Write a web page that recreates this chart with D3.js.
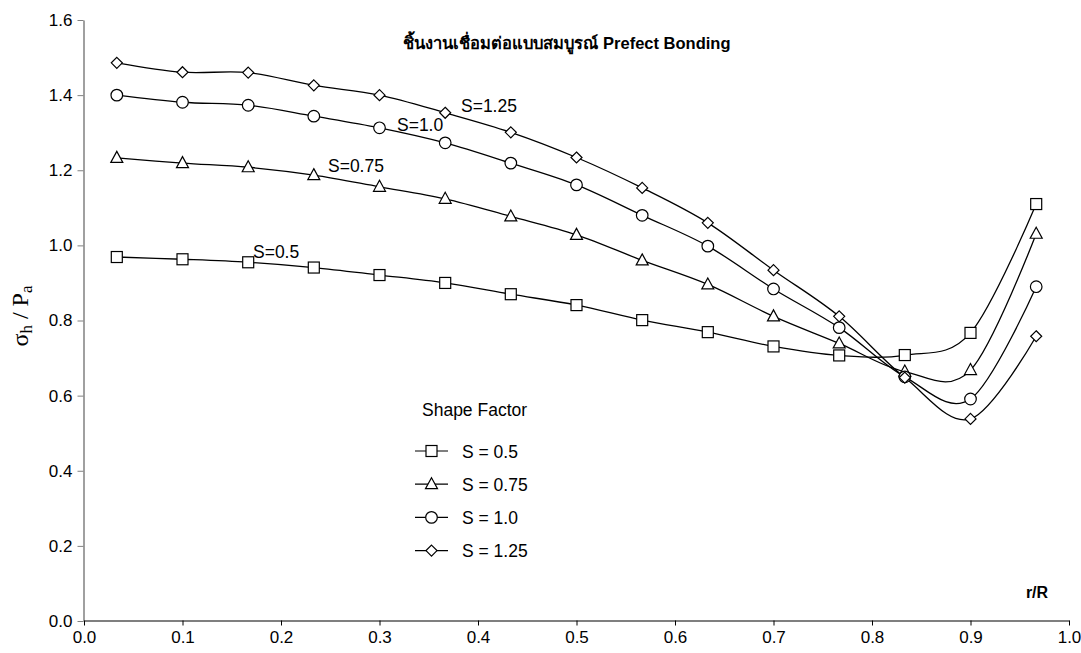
<!DOCTYPE html>
<html>
<head>
<meta charset="utf-8">
<script src="https://cdn.jsdelivr.net/npm/d3@7"></script>
<style>
body{margin:0;background:#fff;}
svg{display:block;font-family:"Liberation Sans",Arial,"Noto Sans","DejaVu Sans",sans-serif;}
</style>
</head>
<body>
<svg id="chart" width="1081" height="653"></svg>
<script>
const rR = [0.0333,0.1,0.1667,0.2333,0.3,0.3667,0.4333,0.5,0.5667,0.6333,0.7,0.7667,0.8333,0.9,0.9667];
const s050 = [0.969,0.963,0.955,0.941,0.921,0.900,0.870,0.841,0.801,0.769,0.731,0.707,0.708,0.767,1.110];
const s075 = [1.233,1.219,1.208,1.187,1.156,1.124,1.077,1.028,0.960,0.896,0.811,0.739,0.664,0.668,1.031];
const s100 = [1.400,1.381,1.373,1.344,1.313,1.273,1.219,1.161,1.080,0.998,0.884,0.781,0.650,0.591,0.890];
const s125 = [1.486,1.461,1.460,1.426,1.400,1.353,1.301,1.234,1.153,1.060,0.934,0.811,0.648,0.538,0.758];
const seriesNames = ["S = 0.5","S = 0.75","S = 1.0","S = 1.25"];
const seriesLabels = ["S=0.5","S=0.75","S=1.0","S=1.25"];
const seriesSymbols = ["square","triangle","circle","diamond"];
const xTicks = [0,0.1,0.2,0.3,0.4,0.5,0.6,0.7,0.8,0.9,1.0];
const yTicks = [0,0.2,0.4,0.6,0.8,1.0,1.2,1.4,1.6];
const titleText = "ชิ้นงานเชื่อมต่อแบบสมบูรณ์ Prefect Bonding";
const legendTitle = "Shape Factor";
const xLabel = "r/R";

const allSeries = [s050,s075,s100,s125];
const svg = d3.select("#chart");
const x = d3.scaleLinear().domain([0,1]).range([84,1069]);
const y = d3.scaleLinear().domain([0,1.6]).range([621,20]);

// y axis (gray)
const yAxis = svg.append("g").attr("transform","translate(83.5,0)")
  .call(d3.axisLeft(y).tickValues(yTicks).tickFormat(d3.format(".1f")).tickSize(6).tickSizeOuter(0));
yAxis.select(".domain").attr("stroke","#808080").attr("stroke-width",1.5);
yAxis.selectAll(".tick line").attr("stroke","#808080");
yAxis.selectAll("text").attr("font-size",17).attr("fill","#000").attr("x",-11)
  .attr("font-family","'Liberation Sans',Arial,sans-serif");

// x axis (black)
const xAxis = svg.append("g").attr("transform","translate(0,620.5)")
  .call(d3.axisBottom(x).tickValues(xTicks).tickFormat(d3.format(".1f")).tickSize(5).tickSizeOuter(0));
xAxis.select(".domain").attr("stroke","#000").attr("stroke-width",1.2);
xAxis.selectAll(".tick line").attr("stroke","#000");
xAxis.selectAll("text").attr("font-size",17).attr("fill","#000").attr("y",10)
  .attr("font-family","'Liberation Sans',Arial,sans-serif");

// lines
const line = d3.line().x((d,i)=>x(rR[i])).y(d=>y(d)).curve(d3.curveCardinal.tension(0));
allSeries.forEach(s=>{
  svg.append("path").datum(s).attr("d",line).attr("fill","none").attr("stroke","#000").attr("stroke-width",1.3);
});

// markers
function drawMarker(g, type, cx, cy){
  if(type==="square"){
    g.append("rect").attr("x",cx-5.5).attr("y",cy-5.5).attr("width",11).attr("height",11)
      .attr("fill","#fff").attr("stroke","#000").attr("stroke-width",1.2);
  } else if(type==="triangle"){
    g.append("path").attr("d",`M${cx},${cy-6.5}L${cx+6},${cy+4.5}L${cx-6},${cy+4.5}Z`)
      .attr("fill","#fff").attr("stroke","#000").attr("stroke-width",1.2);
  } else if(type==="circle"){
    g.append("circle").attr("cx",cx).attr("cy",cy).attr("r",5.8)
      .attr("fill","#fff").attr("stroke","#000").attr("stroke-width",1.2);
  } else {
    g.append("path").attr("d",`M${cx},${cy-5.5}L${cx+5.5},${cy}L${cx},${cy+5.5}L${cx-5.5},${cy}Z`)
      .attr("fill","#fff").attr("stroke","#000").attr("stroke-width",1.2);
  }
}
const mk = svg.append("g");
allSeries.forEach((s,k)=>{
  s.forEach((v,i)=>drawMarker(mk, seriesSymbols[k], x(rR[i]), y(v)));
});

// series annotations
const annPos = [[253,258],[328,171.5],[397,130.5],[461,111.5]];
seriesLabels.forEach((t,k)=>{
  svg.append("text").attr("x",annPos[k][0]).attr("y",annPos[k][1]).attr("font-size",17.5).text(t);
});

// title
svg.append("text").attr("x",567).attr("y",49).attr("text-anchor","middle")
  .attr("font-size",16.5).attr("font-weight","bold").text(titleText);

// x label
svg.append("text").attr("x",1037).attr("y",598).attr("text-anchor","middle")
  .attr("font-size",16).attr("font-weight","bold").text(xLabel);

// y label
const yl = svg.append("text").attr("transform","translate(28,316) rotate(-90)")
  .attr("text-anchor","middle").attr("font-family","'Liberation Serif','DejaVu Serif',serif").attr("font-size",24);
yl.append("tspan").text("σ");
yl.append("tspan").attr("font-size",17).attr("dy",4).text("h");
yl.append("tspan").attr("dy",-4).text(" / P");
yl.append("tspan").attr("font-size",17).attr("dy",4).text("a");

// legend
svg.append("text").attr("x",422).attr("y",416).attr("font-size",17.5).text(legendTitle);
seriesNames.forEach((n,k)=>{
  const ly = 451 + k*33.2;
  svg.append("line").attr("x1",415).attr("x2",448).attr("y1",ly).attr("y2",ly).attr("stroke","#000").attr("stroke-width",1.2);
  drawMarker(svg, seriesSymbols[k], 431.5, ly);
  svg.append("text").attr("x",462).attr("y",ly+6.5).attr("font-size",17.5).text(n);
});
</script>
</body>
</html>
